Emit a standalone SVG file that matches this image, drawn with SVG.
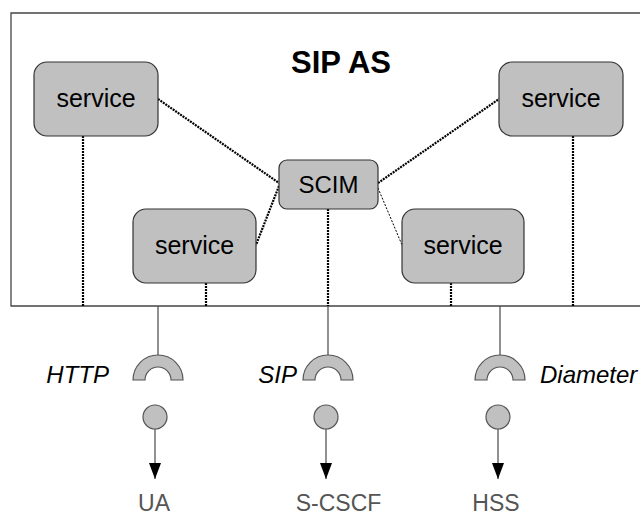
<svg xmlns="http://www.w3.org/2000/svg" width="640" height="516" viewBox="0 0 640 516">
  <style>
    .node rect { fill: #c0c0c0; stroke: #333; stroke-width: 1.2; }
    .label { font-family: "Liberation Sans", Arial, sans-serif; fill: #000; text-anchor: middle; }
    .proto { font-family: "Liberation Sans", Arial, sans-serif; font-style: italic; font-size: 24px; fill: #000; }
    .target { font-family: "Liberation Sans", Arial, sans-serif; font-size: 23px; fill: #555; text-anchor: middle; }
    .dot { stroke: #000; stroke-width: 2.2; stroke-dasharray: 2 1; fill: none; }
    .dot-thin { stroke: #000; stroke-width: 1; stroke-dasharray: 2 1.5; fill: none; }
    .wire { stroke: #555; stroke-width: 1.3; fill: none; }
    .socket { fill: #c0c0c0; stroke: #555; stroke-width: 1.2; }
    .ball { fill: #c0c0c0; stroke: #555; stroke-width: 1.2; }
  </style>
  <defs>
    <marker id="arrow" markerUnits="userSpaceOnUse" markerWidth="16" markerHeight="12" refX="16" refY="6" orient="auto">
      <path d="M0,0 L16,6 L0,12 Z" fill="#000"/>
    </marker>
  </defs>

  <rect width="640" height="516" fill="#fff"/>

  <!-- application server boundary (open on the right) -->
  <g id="sip-as">
    <path d="M641,13 H11 V306 H641" fill="none" stroke="#444" stroke-width="1.3"/>
    <text x="341" y="73" class="label" font-size="31" font-weight="bold">SIP AS</text>
  </g>

  <!-- connectors -->
  <g id="connectors">
    <!-- service to SCIM links -->
    <line class="dot" x1="158" y1="99" x2="279" y2="183"/>
    <line class="dot" x1="279" y1="186" x2="256" y2="245"/>
    <line class="dot" x1="378" y1="183" x2="499" y2="99"/>
    <line class="dot-thin" x1="378" y1="188" x2="402" y2="245"/>
    <!-- drops to the boundary -->
    <line class="dot" x1="83" y1="136" x2="83" y2="306"/>
    <line class="dot" x1="206" y1="283" x2="206" y2="306"/>
    <line class="dot" x1="328" y1="209" x2="328" y2="306"/>
    <line class="dot" x1="451" y1="283" x2="451" y2="306"/>
    <line class="dot" x1="573" y1="136" x2="573" y2="306"/>
    <!-- ports out of the boundary -->
    <line class="wire" x1="158" y1="306" x2="158" y2="355"/>
    <line class="wire" x1="328" y1="306" x2="328" y2="355"/>
    <line class="wire" x1="500" y1="306" x2="500" y2="355"/>
    <!-- balls to external parties -->
    <line class="wire" x1="155" y1="429" x2="155" y2="479" marker-end="url(#arrow)"/>
    <line class="wire" x1="326" y1="429" x2="326" y2="479" marker-end="url(#arrow)"/>
    <line class="wire" x1="498" y1="429" x2="498" y2="479" marker-end="url(#arrow)"/>
  </g>

  <!-- services -->
  <g id="service-top-left" class="node">
    <rect x="34" y="62" width="124" height="74" rx="13"/>
    <text x="96" y="107" class="label" font-size="25">service</text>
  </g>
  <g id="service-bottom-left" class="node">
    <rect x="133" y="209" width="123" height="74" rx="13"/>
    <text x="194.5" y="254" class="label" font-size="25">service</text>
  </g>
  <g id="scim" class="node">
    <rect x="279" y="160" width="99" height="49" rx="8"/>
    <text x="328.5" y="193" class="label" font-size="24">SCIM</text>
  </g>
  <g id="service-bottom-right" class="node">
    <rect x="402" y="209" width="122" height="74" rx="13"/>
    <text x="463" y="254" class="label" font-size="25">service</text>
  </g>
  <g id="service-top-right" class="node">
    <rect x="499" y="62" width="124" height="74" rx="13"/>
    <text x="561" y="107" class="label" font-size="25">service</text>
  </g>

  <!-- HTTP interface -->
  <g id="http">
    <path class="socket" d="M133,380 A25,25 0 0 1 183,380 L171,380 A13,13 0 0 0 145,380 Z"/>
    <text x="109" y="383" class="proto" text-anchor="end">HTTP</text>
    <circle class="ball" cx="155" cy="417" r="12"/>
  </g>
  <g id="ua">
    <text x="154" y="511" class="target">UA</text>
  </g>

  <!-- SIP interface -->
  <g id="sip">
    <path class="socket" d="M303,380 A25,25 0 0 1 353,380 L341,380 A13,13 0 0 0 315,380 Z"/>
    <text x="297" y="383" class="proto" text-anchor="end">SIP</text>
    <circle class="ball" cx="326" cy="417" r="12"/>
  </g>
  <g id="s-cscf">
    <text x="338.5" y="511" class="target">S-CSCF</text>
  </g>

  <!-- Diameter interface -->
  <g id="diameter">
    <path class="socket" d="M475,380 A25,25 0 0 1 525,380 L513,380 A13,13 0 0 0 487,380 Z"/>
    <text x="540" y="383" class="proto">Diameter</text>
    <circle class="ball" cx="498" cy="417" r="12"/>
  </g>
  <g id="hss">
    <text x="496" y="511" class="target">HSS</text>
  </g>
</svg>
